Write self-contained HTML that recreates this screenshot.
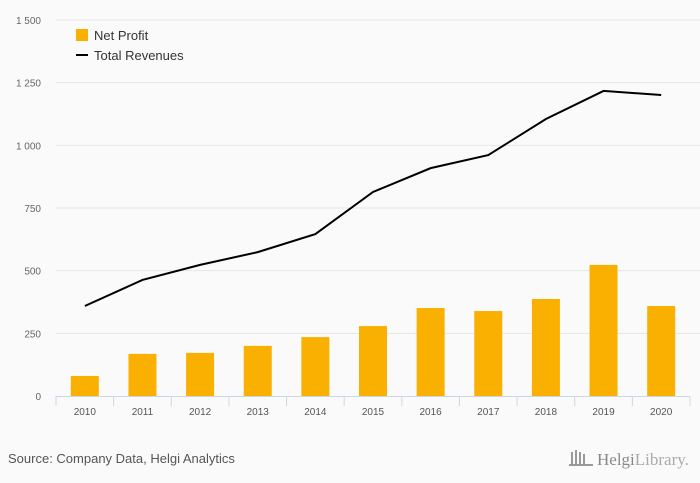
<!DOCTYPE html>
<html><head><meta charset="utf-8"><style>
body{margin:0;background:#fafafa;font-family:"Liberation Sans","DejaVu Sans",sans-serif;}
svg{display:block}
</style></head><body>
<svg id="chart" width="700" height="483" viewBox="0 0 700 483">
<rect width="700" height="483" fill="#fafafa"/>
<g id="grid"></g><g id="bars"></g><g id="line"></g><g id="axes"></g>
<g>
<rect x="76" y="29" width="12" height="12" fill="#f9b000"/>
<text x="94" y="40" font-size="13" fill="#333">Net Profit</text>
<line x1="76" y1="55" x2="88" y2="55" stroke="#000" stroke-width="2"/>
<text x="94" y="60" font-size="13" fill="#333">Total Revenues</text>
</g>
<text x="8" y="463" font-size="13" fill="#555">Source: Company Data, Helgi Analytics</text>
<text x="597" y="465" font-size="17" fill="#888" font-family="Liberation Serif, serif">Helgi<tspan fill="#aaa">Library.</tspan></text>
<g fill="#999"><rect x="571" y="452" width="2" height="12"/><rect x="575" y="450" width="2" height="14"/><rect x="579" y="452" width="2" height="12"/><rect x="583" y="454" width="2" height="10"/><rect x="569" y="464" width="24" height="2"/></g>
</svg>
<script>
const years=['2010','2011','2012','2013','2014','2015','2016','2017','2018','2019','2020'];
const netProfit=[80,168,172,200,235,279,351,339,387,523,359];
const totalRevenues=[359,463,523,574,646,814,909,961,1105,1217,1201];
const yTicks=[0,250,500,750,1000,1250,1500];
const yTickLabels=['0','250','500','750','1 000','1 250','1 500'];
const NS='http://www.w3.org/2000/svg';
const x0=56,x1=690,y0=396,y1=20,maxV=1500;
const band=(x1-x0)/years.length;
const X=i=>x0+band*(i+0.5);
const Y=v=>y0-(v/maxV)*(y0-y1);
function mk(t,a,p){const e=document.createElementNS(NS,t);for(const k in a)e.setAttribute(k,a[k]);p.appendChild(e);return e;}
const grid=document.getElementById('grid'),axes=document.getElementById('axes'),bars=document.getElementById('bars'),line=document.getElementById('line');
yTicks.forEach((v,i)=>{
  if(v>0){const g=mk('line',{x1:x0,x2:700,y1:Y(v),y2:Y(v),stroke:'#e6e6e6','stroke-width':1},grid);
  
  }
  const t=mk('text',{x:41,y:Y(v)+4,'text-anchor':'end','font-size':'10',fill:'#666'},axes);
  t.textContent=yTickLabels[i];
  
  
});
const ax=mk('line',{x1:x0,x2:x1,y1:y0+0.5,y2:y0+0.5,stroke:'#ccd6eb'},axes);


for(let i=0;i<=years.length;i++){const tk=mk('line',{x1:x0+band*i,x2:x0+band*i,y1:y0,y2:y0+10,stroke:'#ccd6eb'},axes);

}
years.forEach((yr,i)=>{
  const t=mk('text',{x:X(i),y:y0+19,'text-anchor':'middle','font-size':'10',fill:'#555'},axes);
  t.textContent=yr;
  
  
  const b=mk('rect',{x:X(i)-14,y:Y(netProfit[i]),width:28,height:y0-Y(netProfit[i]),fill:'#f9b000'},bars);
  
  
});
const p=mk('polyline',{points:totalRevenues.map((v,i)=>X(i)+','+Y(v)).join(' '),fill:'none',stroke:'#000','stroke-width':2},line);


</script>
</body></html>
